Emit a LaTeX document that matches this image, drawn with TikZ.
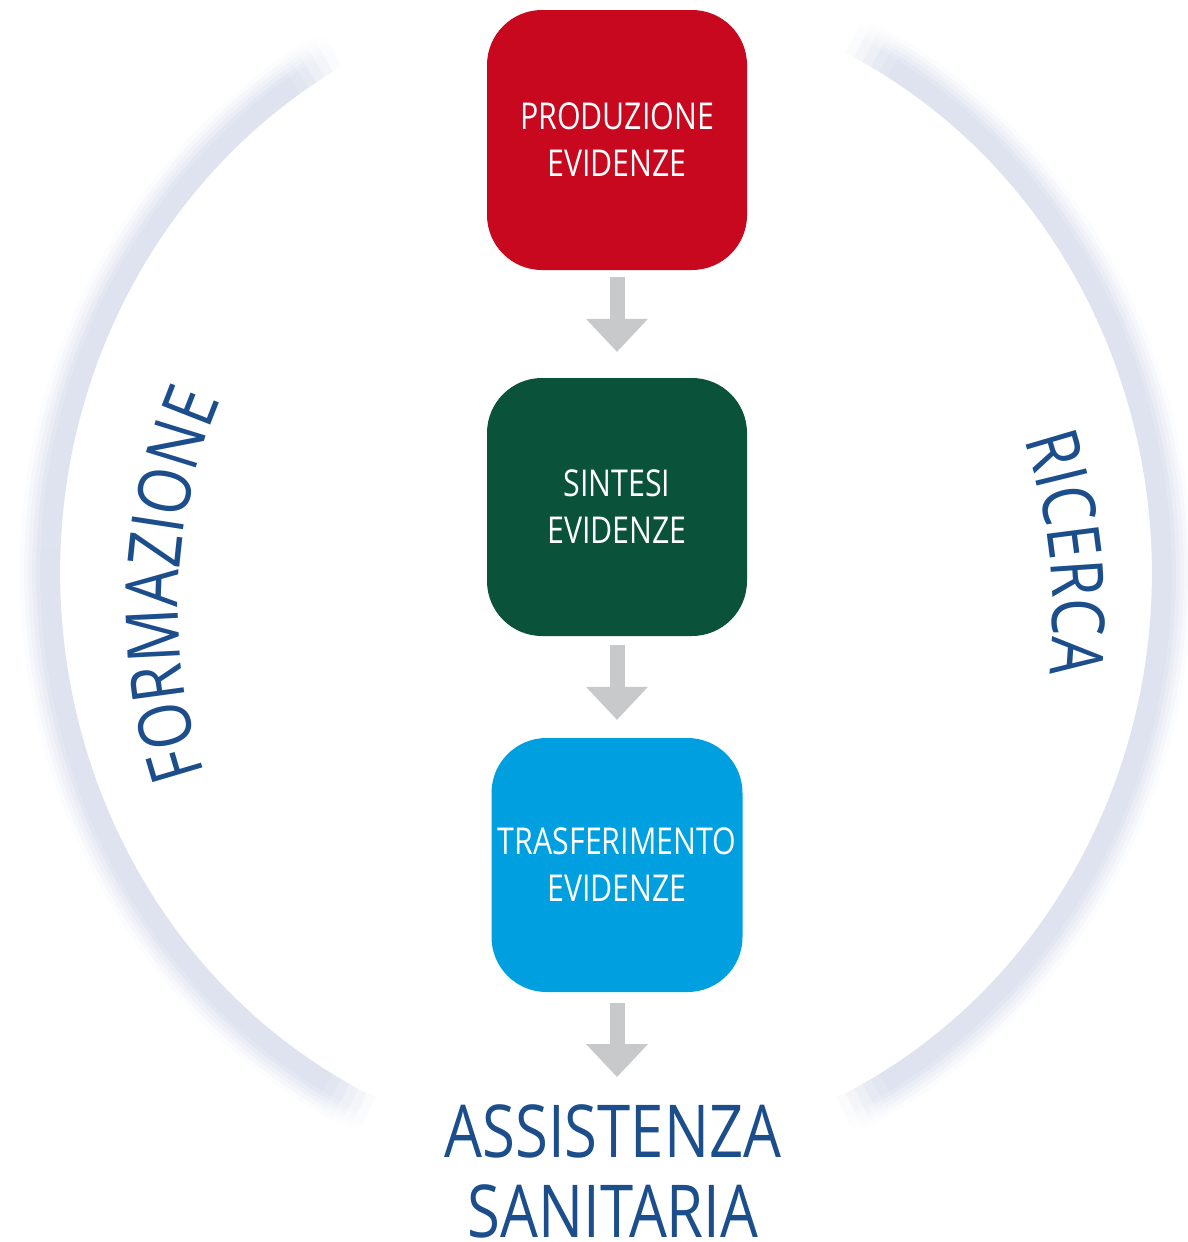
\documentclass[tikz,border=0pt]{standalone}
\usepackage{amsmath}
\usepackage{fontspec}
\setmainfont[FakeStretch=0.82]{Open Sans}
\usepackage{tikz}
\usetikzlibrary{arrows.meta,decorations.text}

\definecolor{prodred}{RGB}{200,8,30}
\definecolor{sintgreen}{RGB}{11,82,58}
\definecolor{trasfblue}{RGB}{0,159,224}
\definecolor{arrowgray}{RGB}{200,201,203}
\definecolor{labelblue}{RGB}{28,78,140}
\definecolor{ringcol}{RGB}{222,227,239}

\newcommand{\ringarc}[4]{%
    \draw[line width=4.4pt,draw=ringcol!#4!white] (606,573) ++(#1:546+#3 and 579+#3)
        arc[start angle=#1,end angle=#2,x radius=546+#3,y radius=579+#3];}
\newcommand{\bigfont}{\fontsize{73}{80}\selectfont}

\begin{document}
    \begin{tikzpicture}[x=1pt,y=-1pt,
        evbox/.style={rounded corners=55pt,minimum width=260pt,minimum height=260pt,inner sep=0pt,
            text=white,align=center,font=\fontsize{37}{47}\selectfont},
        flow/.style={draw=arrowgray,line width=15pt,-{Triangle[width=62pt,length=33pt,line width=0pt]}}]
        \useasboundingbox (0,0) rectangle (1188,1242);
        % ring round the chain
        \foreach \off/\r in {2/100,6/100,10/100,14/100,18/100,22/85,26/65,30/45,34/28,38/12}{
            \foreach \a/\b/\e in {115/116/15,116/117/35,117/118/55,118/119/75,119/120/90,120/236/100,
                236/237/90,237/238/75,238/239/55,239/240/35,240/241/15,
                -64/-63/15,-63/-62/35,-62/-61/55,-61/-60/75,-60/-59/90,-59/60/100,
                60/61/90,61/62/75,62/63/55,63/64/35,64/65/15}{
                \pgfmathtruncatemacro{\pc}{\r*\e/100}
                \ringarc{\a}{\b}{\off}{\pc}
            }
        }
        \path[decorate,decoration={text along path,text align=center,text color=labelblue,
            text={|\bigfont|FORMAZIONE}}] (708,608) ++(150:530) arc[start angle=150,end angle=215,radius=530];
        \path[decorate,decoration={text along path,text align=center,text color=labelblue,
            text={|\bigfont|RICERCA}}] (486,618) ++(-36.3:567) arc[start angle=-36.3,end angle=23.7,radius=567];
        % the three steps
        \node[evbox,fill=prodred] (prod) at (617,140) {PRODUZIONE\\EVIDENZE};
        \node[evbox,fill=sintgreen,minimum height=258pt] (sint) at (617,507) {SINTESI\\EVIDENZE};
        \node[evbox,fill=trasfblue,minimum width=251pt,minimum height=254pt] (trasf) at (617,865) {TRASFERIMENTO\\EVIDENZE};
        \node[text=labelblue,align=center,inner sep=0pt,font=\bigfont,anchor=north] (care) at (613,1104) {ASSISTENZA\\SANITARIA};
        \draw[flow,shorten <=7pt,shorten >=26pt] (prod) -- (sint);
        \draw[flow,shorten <=9pt,shorten >=18pt] (sint) -- (trasf);
        \draw[flow,shorten <=11pt,shorten >=27pt] (trasf.south) -- (trasf.south |- care.north);
    \end{tikzpicture}
\end{document}
